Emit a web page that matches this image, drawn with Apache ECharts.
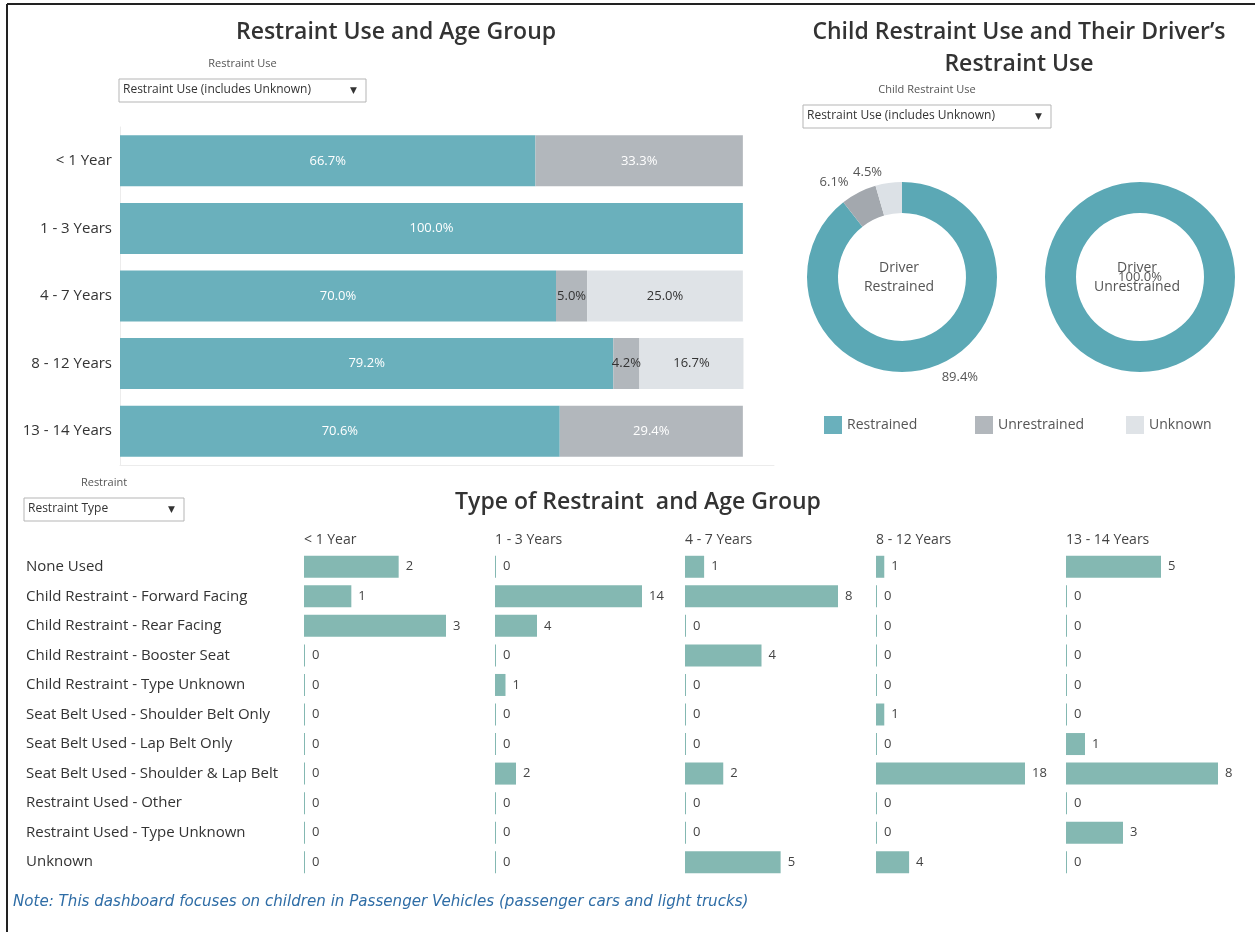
<!DOCTYPE html>
<html>
<head>
    <meta charset="utf-8">
    <title>Child Restraint Dashboard</title>
    <script src="https://cdn.jsdelivr.net/npm/echarts@6/dist/echarts.min.js"></script>
    <style>
        html, body { margin: 0; padding: 0; background: #fff; }
    </style>
</head>
<body>
    <div id="dash" style="width: 1255px;height:932px;"></div>
    <script type="text/javascript">
        // top-left: restraint use by age group (percent)
        var ageGroups = ['< 1 Year', '1 - 3 Years', '4 - 7 Years', '8 - 12 Years', '13 - 14 Years'];
        var restrained = [66.7, 100.0, 70.0, 79.2, 70.6];
        var unrestrained = [33.3, 0, 5.0, 4.2, 29.4];
        var unknown = [0, 0, 25.0, 16.7, 0];

        // donuts: child restraint use by driver restraint use
        var useNames = ['Restrained', 'Unrestrained', 'Unknown'];
        var driverRestrained = [89.4, 6.1, 4.5];
        var driverUnrestrained = [100.0, 0, 0];

        // bottom: restraint type counts per age group
        var restraintTypes = ['None Used', 'Child Restraint - Forward Facing', 'Child Restraint - Rear Facing',
            'Child Restraint - Booster Seat', 'Child Restraint - Type Unknown', 'Seat Belt Used - Shoulder Belt Only',
            'Seat Belt Used - Lap Belt Only', 'Seat Belt Used - Shoulder & Lap Belt', 'Restraint Used - Other',
            'Restraint Used - Type Unknown', 'Unknown'];
        var under1 = [2, 1, 3, 0, 0, 0, 0, 0, 0, 0, 0];
        var age1to3 = [0, 14, 4, 0, 1, 0, 0, 2, 0, 0, 0];
        var age4to7 = [1, 8, 0, 4, 0, 0, 0, 2, 0, 0, 5];
        var age8to12 = [1, 0, 0, 0, 0, 1, 0, 18, 0, 0, 4];
        var age13to14 = [5, 0, 0, 0, 0, 0, 1, 8, 0, 3, 0];

        var FONT = 'Open Sans';
        var barColors = ['#6AB0BC', '#B2B7BC', '#DFE3E7'];
        var pieColors = ['#5BA8B5', '#A3A8AE', '#DCE1E6'];
        var typeColor = '#84B8B2';

        var chart = echarts.init(document.getElementById('dash'));

        function pct(p) {
            return p.value > 0 ? p.value.toFixed(1) + '%' : '';
        }

        // label colour depends on the segment (light text on the darker fills)
        function stackData(vals, lightText) {
            return vals.map(function (v) {
                return { value: v, label: { color: lightText(v) ? '#ffffff' : '#333333' } };
            });
        }

        // dropdown widgets drawn as graphics
        function dropdown(x, y, w, caption, text) {
            return {
                type: 'group',
                children: [
                    { type: 'text', x: x + w / 2, y: y - 21, style: { text: caption, fill: '#555', font: '11px ' + FONT, textAlign: 'center' } },
                    { type: 'rect', shape: { x: x, y: y, width: w, height: 23 }, style: { fill: '#fff', stroke: '#b5b5b5', lineWidth: 1 } },
                    { type: 'text', x: x + 4, y: y + 5, style: { text: text, fill: '#333', font: '12px ' + FONT } },
                    { type: 'text', x: x + w - 16, y: y + 7, style: { text: '\u25BC', fill: '#333', font: '9px DejaVu Sans' } }
                ]
            };
        }

        var typeCols = [
            { name: '< 1 Year', data: under1 },
            { name: '1 - 3 Years', data: age1to3 },
            { name: '4 - 7 Years', data: age4to7 },
            { name: '8 - 12 Years', data: age8to12 },
            { name: '13 - 14 Years', data: age13to14 }
        ];
        var colLeft = [304, 495, 685, 876, 1066];
        var colWidth = [142, 147, 153, 149, 152];

        var grids = [{ left: 120, top: 127, width: 654, height: 338 }];
        var xAxes = [{
            gridIndex: 0, type: 'value', min: 0, max: 105,
            axisLine: { show: true, lineStyle: { color: '#ececec' } },
            axisTick: { show: false }, axisLabel: { show: false }, splitLine: { show: false }
        }];
        var yAxes = [{
            gridIndex: 0, type: 'category', data: ageGroups, inverse: true,
            axisLine: { show: true, lineStyle: { color: '#ececec' } },
            axisTick: { show: false },
            axisLabel: { color: '#333', fontFamily: FONT, fontSize: 15, margin: 8 }
        }];

        var series = [
            {
                name: 'Restrained', type: 'bar', stack: 'use', xAxisIndex: 0, yAxisIndex: 0, barWidth: 51,
                itemStyle: { color: barColors[0] },
                label: { show: true, position: 'inside', fontFamily: FONT, fontSize: 13, formatter: pct },
                data: stackData(restrained, function () { return true; })
            },
            {
                name: 'Unrestrained', type: 'bar', stack: 'use', xAxisIndex: 0, yAxisIndex: 0, barWidth: 51,
                itemStyle: { color: barColors[1] },
                label: { show: true, position: 'inside', fontFamily: FONT, fontSize: 13, formatter: pct },
                data: stackData(unrestrained, function (v) { return v > 10; })
            },
            {
                name: 'Unknown', type: 'bar', stack: 'use', xAxisIndex: 0, yAxisIndex: 0, barWidth: 51,
                itemStyle: { color: barColors[2] },
                label: { show: true, position: 'inside', fontFamily: FONT, fontSize: 13, formatter: pct },
                data: stackData(unknown, function () { return false; })
            },
            {
                name: 'Driver Restrained', type: 'pie', center: [902, 277], radius: [64, 95],
                color: pieColors, avoidLabelOverlap: false,
                label: { position: 'outside', color: '#555', fontFamily: FONT, fontSize: 13, formatter: pct },
                labelLine: { show: false, length: 11, length2: 0 },
                data: useNames.map(function (n, i) { return { name: n, value: driverRestrained[i] }; })
            },
            {
                name: 'Driver Unrestrained', type: 'pie', center: [1140, 277], radius: [64, 95],
                color: pieColors,
                label: { position: 'center', color: '#555', fontFamily: FONT, fontSize: 13, formatter: pct },
                labelLine: { show: false },
                data: useNames.map(function (n, i) { return { name: n, value: driverUnrestrained[i] }; })
            }
        ];

        typeCols.forEach(function (col, i) {
            var g = i + 1;
            grids.push({ left: colLeft[i], top: 552, width: colWidth[i], height: 325 });
            xAxes.push({
                gridIndex: g, type: 'value', min: 0, max: 'dataMax', show: false
            });
            yAxes.push({
                gridIndex: g, type: 'category', data: restraintTypes, inverse: true,
                name: col.name, nameLocation: 'start', nameGap: 5,
                nameTextStyle: { align: 'left', verticalAlign: 'bottom', color: '#444', fontFamily: FONT, fontSize: 14 },
                axisLine: { show: false }, axisTick: { show: false },
                axisLabel: i === 0
                    ? { show: true, align: 'left', margin: 278, color: '#333', fontFamily: FONT, fontSize: 15 }
                    : { show: false }
            });
            series.push({
                name: col.name, type: 'bar', xAxisIndex: g, yAxisIndex: g, barWidth: 22, barMinHeight: 1,
                itemStyle: { color: typeColor },
                label: { show: true, position: 'right', distance: 7, color: '#444', fontFamily: FONT, fontSize: 13 },
                data: col.data
            });
        });

        var legendPos = [824, 975, 1126];
        var legends = useNames.map(function (n, i) {
            return {
                left: legendPos[i], top: 416, padding: 0, data: [n], icon: 'rect', itemWidth: 18, itemHeight: 18, itemGap: 6,
                textStyle: { color: '#555', fontFamily: FONT, fontSize: 14 }
            };
        });

        chart.setOption({
            animation: false,
            color: pieColors,
            title: [
                { text: 'Restraint Use and Age Group', left: 391, top: 16, textAlign: 'center',
                  textStyle: { fontFamily: 'Open Sans', fontWeight: 600, fontSize: 23, color: '#333' } },
                { text: 'Child Restraint Use and Their Driver\u2019s\nRestraint Use', left: 1014, top: 11, textAlign: 'center',
                  textStyle: { fontFamily: 'Open Sans', fontWeight: 600, fontSize: 23, color: '#333', lineHeight: 32 } },
                { text: 'Type of Restraint  and Age Group', left: 633, top: 486, textAlign: 'center',
                  textStyle: { fontFamily: 'Open Sans', fontWeight: 600, fontSize: 23, color: '#333' } },
                { text: 'Driver\nRestrained', left: 894, top: 254, textAlign: 'center',
                  textStyle: { fontFamily: FONT, fontWeight: 'normal', fontSize: 14, color: '#555', lineHeight: 19 } },
                { text: 'Driver\nUnrestrained', left: 1132, top: 254, textAlign: 'center',
                  textStyle: { fontFamily: FONT, fontWeight: 'normal', fontSize: 14, color: '#555', lineHeight: 19 } },
                { text: 'Note: This dashboard focuses on children in Passenger Vehicles (passenger cars and light trucks)',
                  left: 8, top: 890,
                  textStyle: { fontFamily: 'DejaVu Sans', fontStyle: 'italic', fontWeight: 'normal', fontSize: 15.1, color: '#2F6DA6' } }
            ],
            legend: legends,
            grid: grids,
            xAxis: xAxes,
            yAxis: yAxes,
            series: series,
            graphic: [
                { type: 'line', shape: { x1: 7, y1: 4, x2: 1255, y2: 4 }, style: { stroke: '#222', lineWidth: 2 } },
                { type: 'line', shape: { x1: 7, y1: 4, x2: 7, y2: 932 }, style: { stroke: '#222', lineWidth: 2 } },
                dropdown(119, 79, 247, 'Restraint Use', 'Restraint Use (includes Unknown)'),
                dropdown(803, 105, 248, 'Child Restraint Use', 'Restraint Use (includes Unknown)'),
                dropdown(24, 498, 160, 'Restraint', 'Restraint Type')
            ]
        });
    </script>
</body>
</html>
